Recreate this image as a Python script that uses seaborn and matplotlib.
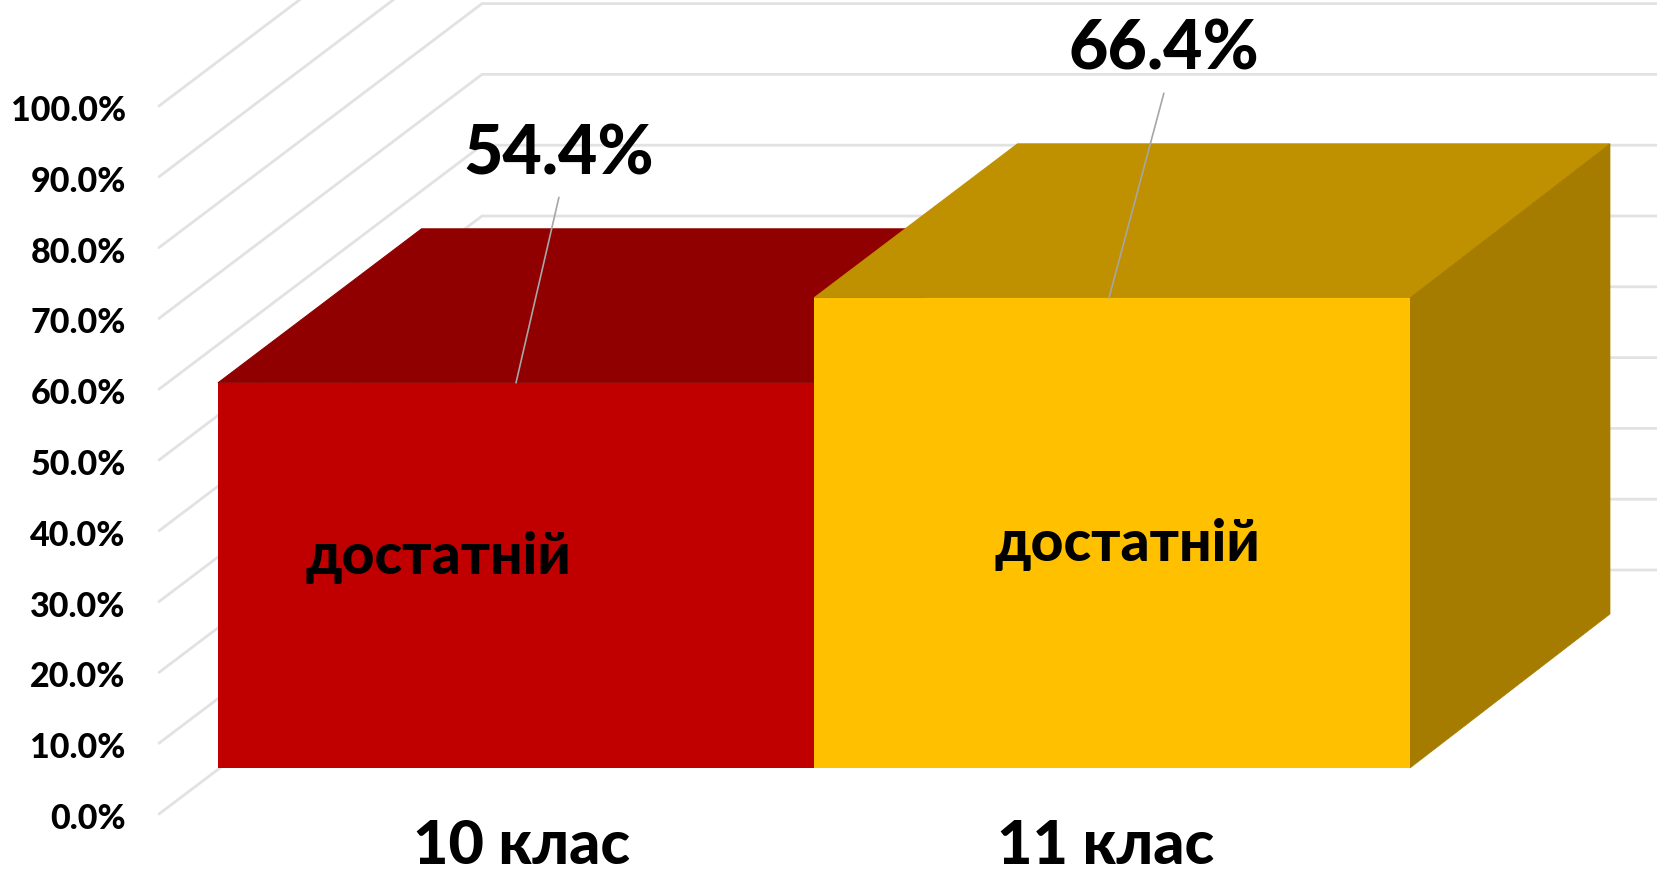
import numpy as np
import pandas as pd
import seaborn as sns
from matplotlib import pyplot as plt
from matplotlib.patches import Polygon
from matplotlib.transforms import ScaledTranslation

classes = ['10 клас', '11 клас']
values = [54.4, 66.4]
bar_labels = ['достатній', 'достатній']
value_labels = ['54.4%', '66.4%']
y_ticks = [0, 10, 20, 30, 40, 50, 60, 70, 80, 90, 100]

front_colors = ['#C00000', '#FFC000']
top_colors = ['#900000', '#BF9000']
side_color = '#A67C00'
grid_color = '#E2E2E2'

# pixel layout of the picture
W, H = 1658, 872
wall_x, wall_y = 159, 814
cat_px = 596
cat0_px = 516
pct_px = 7.08

# depth vectors in data units (x in categories, y in percent)
floor_dx, floor_dy = 59 / cat_px, 46 / pct_px
bar_dx, bar_dy = 200 / cat_px, 154 / pct_px
wall_dx, wall_dy = 323 / cat_px, 244 / pct_px

sns.set_theme(style='white')
plt.rcParams['font.family'] = ['Lato', 'Noto Sans']
plt.rcParams['font.weight'] = 'bold'
heavy = 'black'

fig = plt.figure(figsize=(W / 100, H / 100), dpi=100)
ax = fig.add_axes([wall_x / W, (H - wall_y) / H, (W - wall_x) / W, wall_y / H])

df = pd.DataFrame({'klas': classes, 'value': values})
sns.barplot(data=df, x='klas', y='value', hue='klas', palette=front_colors, width=1, dodge=False, saturation=1,
            legend=False, errorbar=None, bottom=floor_dy, linewidth=0, ax=ax)

x0 = (wall_x - cat0_px) / cat_px
x1 = (W - cat0_px) / cat_px
ax.set_xlim(x0, x1)
ax.set_ylim(0, wall_y / pct_px)

# walls
for t in y_ticks:
    ax.plot([x0, x0 + wall_dx, x1], [t, t + wall_dy, t + wall_dy], color=grid_color, lw=2, zorder=1,
            clip_on=False, solid_joinstyle='miter')

# 3d faces of the bars
bars = ax.patches[:2]
for i, bar in enumerate(bars):
    left = bar.get_x()
    right = left + bar.get_width()
    top = bar.get_y() + bar.get_height()
    base = bar.get_y()
    bar.set_zorder(3 + 3 * i)
    ax.add_patch(Polygon([[left, top], [right, top], [right + bar_dx, top + bar_dy], [left + bar_dx + 0.006, top + bar_dy]],
                         closed=True, facecolor=top_colors[i], edgecolor=top_colors[i], lw=0.8, zorder=2 + 3 * i))
    if i == 1:
        ax.add_patch(Polygon([[right, base], [right + bar_dx, base + bar_dy], [right + bar_dx, top + bar_dy], [right, top]],
                             closed=True, facecolor=side_color, edgecolor=side_color, lw=0.5, zorder=2 + 3 * i))

# value labels with leader lines
line_x = [0.0, 0.995]
line_end = [(0.072, 26.2), (0.092, 28.9)]
label_dy = [32.2, 35.0]
inner_pos = [(-0.131, 36.2), (1.026, 38.0)]
for i, v in enumerate(values):
    top = v + floor_dy
    ax.plot([line_x[i], line_x[i] + line_end[i][0]], [top, top + line_end[i][1]], color='#A6A6A6', lw=1.2, zorder=9)
    ax.text(line_x[i] + line_end[i][0], top + label_dy[i], value_labels[i], ha='center', va='center',
            fontsize=49, fontweight=heavy, color='black', zorder=10)
    ax.text(inner_pos[i][0], inner_pos[i][1], bar_labels[i], ha='center', va='center',
            fontsize=41, fontweight=heavy, color='black', zorder=10)

ax.set_yticks(y_ticks)
ax.set_yticklabels([f'{t:.1f}%' for t in y_ticks], fontsize=24.5, fontweight=heavy, color='black')
ax.set_xticks([0.01, 0.99])
ax.set_xticklabels(classes, fontsize=44, fontweight=heavy, color='black')
ax.tick_params(axis='y', length=0, pad=24)
ax.tick_params(axis='x', length=0, pad=3)
for label in ax.get_yticklabels():
    label.set_transform(label.get_transform() + ScaledTranslation(0, -2 / 100, fig.dpi_scale_trans))
ax.set_xlabel('')
ax.set_ylabel('')
ax.patch.set_alpha(0)
sns.despine(ax=ax, left=True, bottom=True)

fig.savefig('out.png', dpi=100)
